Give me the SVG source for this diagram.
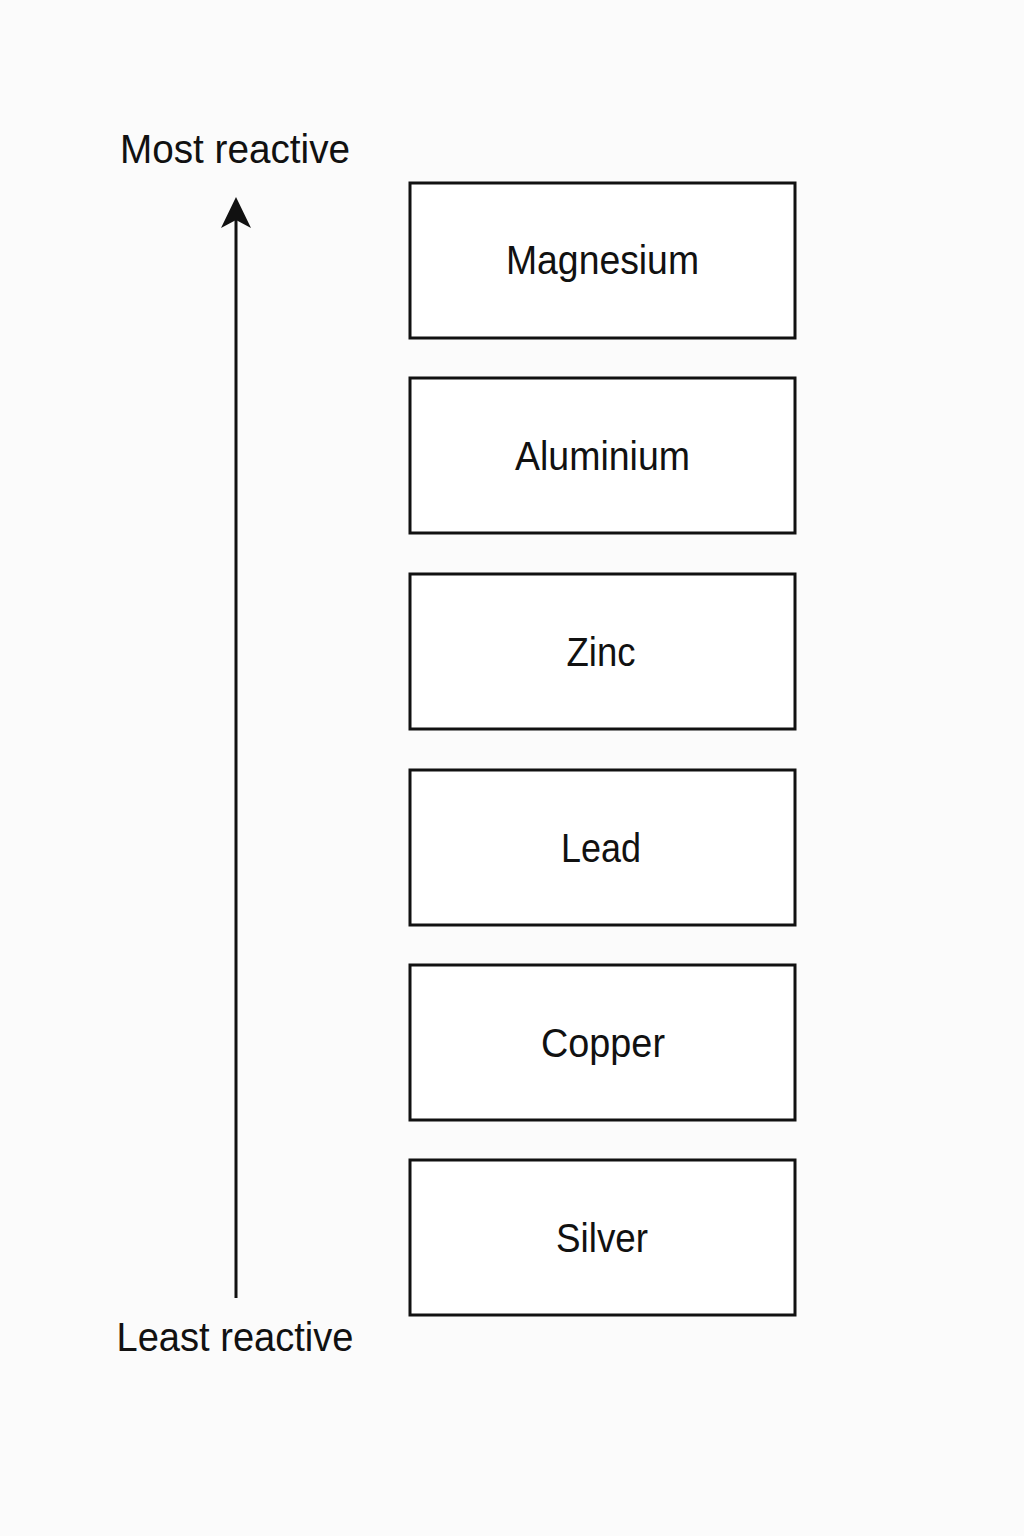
<svg xmlns="http://www.w3.org/2000/svg" width="1024" height="1536" viewBox="0 0 1024 1536">
<style>
.box{fill:#ffffff;stroke:#111;stroke-width:3}
.lbl{font-family:"Liberation Sans",Arial,sans-serif;font-size:41px;fill:#111;text-anchor:middle}
.axis{font-family:"Liberation Sans",Arial,sans-serif;font-size:41px;fill:#111;text-anchor:middle}
</style>
<rect width="1024" height="1536" fill="#fbfbfb"/>
<g id="connectors">
<line x1="236" y1="1298" x2="236" y2="215" stroke="#111" stroke-width="3"/>
<path d="M236,197 L251,228 L236,220 L221,228 Z" fill="#111"/>
</g>
<text class="axis" x="235" y="163" textLength="230" lengthAdjust="spacingAndGlyphs">Most reactive</text>
<text class="axis" x="235" y="1351" textLength="237" lengthAdjust="spacingAndGlyphs">Least reactive</text>
<g id="magnesium"><rect class="box" x="410" y="183" width="385" height="155"/><text class="lbl" x="602.5" y="274" textLength="193" lengthAdjust="spacingAndGlyphs">Magnesium</text></g>
<g id="aluminium"><rect class="box" x="410" y="378" width="385" height="155"/><text class="lbl" x="602.5" y="470" textLength="175" lengthAdjust="spacingAndGlyphs">Aluminium</text></g>
<g id="zinc"><rect class="box" x="410" y="574" width="385" height="155"/><text class="lbl" x="601" y="666" textLength="69" lengthAdjust="spacingAndGlyphs">Zinc</text></g>
<g id="lead"><rect class="box" x="410" y="770" width="385" height="155"/><text class="lbl" x="601" y="862" textLength="80" lengthAdjust="spacingAndGlyphs">Lead</text></g>
<g id="copper"><rect class="box" x="410" y="965" width="385" height="155"/><text class="lbl" x="603" y="1057" textLength="124" lengthAdjust="spacingAndGlyphs">Copper</text></g>
<g id="silver"><rect class="box" x="410" y="1160" width="385" height="155"/><text class="lbl" x="602" y="1252" textLength="92" lengthAdjust="spacingAndGlyphs">Silver</text></g>
</svg>
